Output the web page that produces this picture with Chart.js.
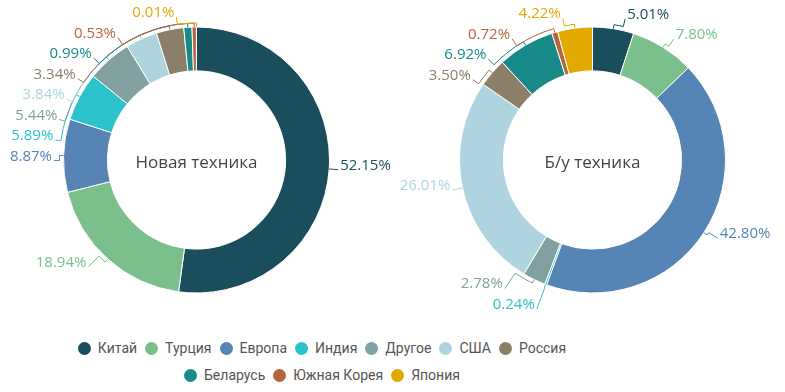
<!DOCTYPE html>
<html lang="ru">
<head>
  <meta charset="UTF-8">
  <title>Новая и б/у техника</title>
  <script src="https://cdn.jsdelivr.net/npm/chart.js"></script>
  <style>
    body { margin: 0; width: 785px; height: 392px; background: #fff; overflow: hidden; position: relative; font-family: 'Open Sans', sans-serif; }
    canvas { position: absolute; top: 0; }
    #chartNew { left: 0; }
    #chartUsed { left: 396px; }
    .legend-row { position: absolute; left: 0; width: 644px; height: 20px; display: flex; justify-content: center; gap: 8px; font-family: Roboto, sans-serif; font-size: 14px; line-height: 20px; color: #555; }
    .legend-item { display: flex; align-items: center; white-space: nowrap; }
    .legend-item i { width: 13px; height: 13px; border-radius: 50%; margin-right: 7px; display: inline-block; }
  </style>
</head>
<body>
  <canvas id="chartNew" width="393" height="320"></canvas>
  <canvas id="chartUsed" width="393" height="320"></canvas>
  <div class="legend-row" id="legendRow1" style="top:338px"></div>
  <div class="legend-row" id="legendRow2" style="top:365px"></div>

  <script>
  // data
  const countries = ['Китай', 'Турция', 'Европа', 'Индия', 'Другое', 'США', 'Россия', 'Беларусь', 'Южная Корея', 'Япония'];
  const newShare = [52.15, 18.94, 8.87, 5.89, 5.44, 3.84, 3.34, 0.99, 0.53, 0.01];
  const usedShare = [5.01, 7.80, 42.80, 0.24, 2.78, 26.01, 3.50, 6.92, 0.72, 4.22];
  const colors = ['#1b4e5d', '#7bbf8d', '#5584b5', '#2bc3cb', '#80a19f', '#aed4e0', '#8c7f69', '#188a8a', '#b6643e', '#e2a900'];

  const LINE_H = 20.5;

  // labels outside the ring, pushed apart on each side
  const outLabels = {
    id: 'outLabels',
    afterDatasetsDraw(chart) {
      const ctx = chart.ctx;
      const arcs = chart.getDatasetMeta(0).data;
      const values = chart.data.datasets[0].data;
      const cols = chart.data.datasets[0].backgroundColor;
      if (!arcs.length) return;
      const cx = arcs[0].x, cy = arcs[0].y, r = arcs[0].outerRadius;

      const items = arcs.map((arc, i) => {
        const a = (arc.startAngle + arc.endAngle) / 2;
        const dir = Math.cos(a) >= 0 ? 1 : -1;
        const y0 = cy + (r + 10) * Math.sin(a);
        return { i, a, dir, y0, y: y0, x: cx + (r + 10) * Math.cos(a) };
      });

      [-1, 1].forEach(dir => {
        const side = items.filter(it => it.dir === dir).sort((p, q) => p.y0 - q.y0);
        let shifted = false;
        for (let k = 1; k < side.length; k++) {
          const min = side[k - 1].y + LINE_H;
          if (side[k].y < min) { side[k].y = min; shifted = true; }
        }
        const maxY = chart.height - 4;
        if (side.length && side[side.length - 1].y > maxY) {
          side[side.length - 1].y = maxY;
          for (let k = side.length - 2; k >= 0; k--) {
            side[k].y = Math.min(side[k].y, side[k + 1].y - LINE_H);
          }
          shifted = true;
        }
        if (!shifted) return;
        side.forEach(it => {
          const dy = it.y - cy;
          const rB = dy < 0 ? r + 10.5 : r + 26;
          const f = Math.sqrt(Math.max(0, 1 - dy * dy / (rB * rB)));
          it.x = cx + dir * Math.max(f * (r + 0.5) + 10, 20);
        });
      });

      ctx.save();
      ctx.font = '15px "Open Sans"';
      ctx.lineWidth = 1;
      ctx.textBaseline = 'alphabetic';
      const rc = r + 4;
      items.forEach(it => {
        const color = cols[it.i];
        const tx = it.x - it.dir, ty = it.y;
        const aT = Math.atan2(ty - cy, tx - cx);
        let d = aT - it.a;
        while (d > Math.PI) d -= 2 * Math.PI;
        while (d < -Math.PI) d += 2 * Math.PI;
        ctx.strokeStyle = color;
        ctx.beginPath();
        ctx.moveTo(cx + r * Math.cos(it.a), cy + r * Math.sin(it.a));
        ctx.arc(cx, cy, rc, it.a, it.a + d, d < 0);
        ctx.lineTo(tx, ty);
        ctx.stroke();

        ctx.fillStyle = color;
        ctx.textAlign = it.dir > 0 ? 'left' : 'right';
        ctx.fillText(values[it.i].toFixed(2) + '%', it.x + it.dir, it.y);
      });
      ctx.restore();
    }
  };

  const centerTitle = {
    id: 'centerTitle',
    afterDraw(chart, args, opts) {
      const arc = chart.getDatasetMeta(0).data[0];
      if (!arc) return;
      const ctx = chart.ctx;
      ctx.save();
      ctx.font = '17px "Open Sans"';
      ctx.fillStyle = '#444';
      ctx.textAlign = 'center';
      ctx.textBaseline = 'middle';
      ctx.fillText(opts.text, arc.x, arc.y + 3);
      ctx.restore();
    }
  };

  function makeDonut(id, values, title) {
    return new Chart(document.getElementById(id), {
      type: 'doughnut',
      data: {
        labels: countries,
        datasets: [{
          data: values,
          backgroundColor: colors,
          borderColor: '#fff',
          borderWidth: 1,
          radius: 133,
          cutout: '67%'
        }]
      },
      options: {
        responsive: false,
        animation: false,
        events: [],
        plugins: {
          legend: { display: false },
          tooltip: { enabled: false },
          centerTitle: { text: title }
        }
      },
      plugins: [outLabels, centerTitle]
    });
  }

  makeDonut('chartNew', newShare, 'Новая техника');
  makeDonut('chartUsed', usedShare, 'Б/у техника');

  // legend
  const rows = [[0, 7], [7, 10]];
  rows.forEach(([from, to], n) => {
    const row = document.getElementById('legendRow' + (n + 1));
    countries.slice(from, to).forEach((name, k) => {
      const item = document.createElement('span');
      item.className = 'legend-item';
      item.innerHTML = '<i style="background:' + colors[from + k] + '"></i>' + name;
      row.appendChild(item);
    });
  });
  </script>
</body>
</html>
